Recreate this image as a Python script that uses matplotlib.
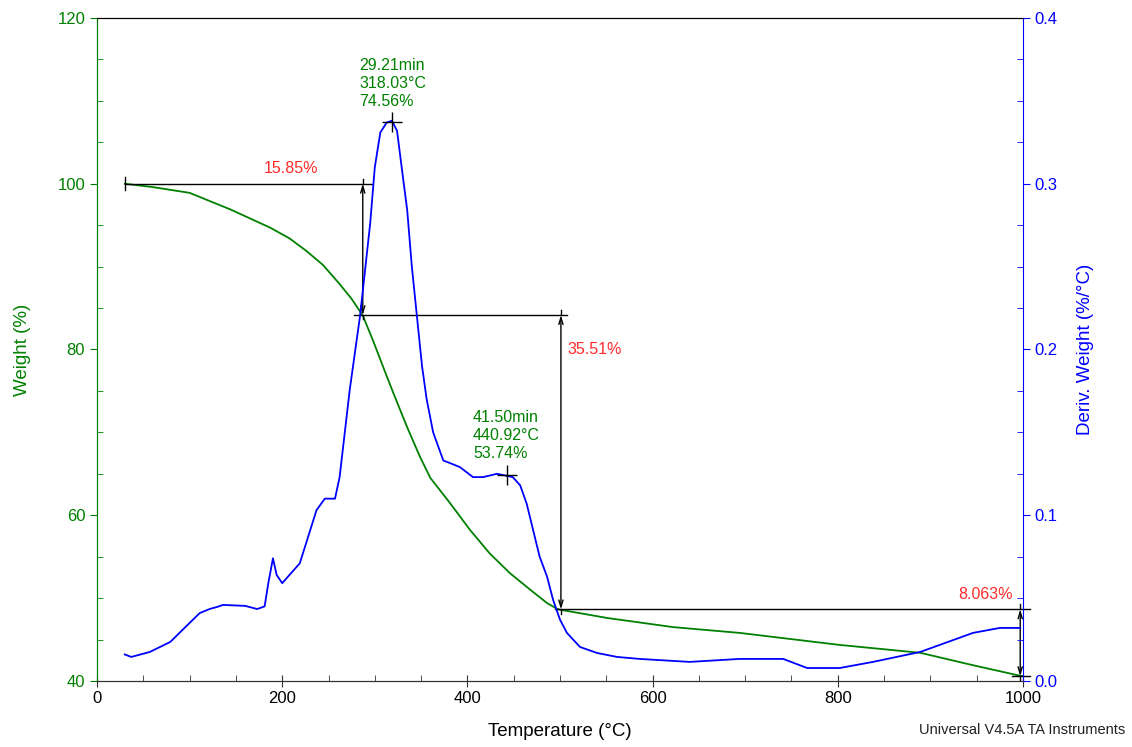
import matplotlib
matplotlib.use('Agg')
import matplotlib.pyplot as plt
from matplotlib.ticker import MultipleLocator

plt.rcParams['font.family'] = ['Liberation Sans', 'DejaVu Sans']

GREEN = '#008000'
BLUE = '#0000FF'
RED = '#FF2A2A'

# TGA weight curve
temp_w = [30, 60, 100, 144, 187, 208, 226, 244, 262, 275, 287, 298, 309,
          320, 335, 349, 360, 381, 403, 424, 446, 468, 486, 497, 500, 551,
          622, 694, 802, 889, 946, 994, 1000]
weight = [100.0, 99.6, 98.9, 96.9, 94.7, 93.4, 91.9, 90.2, 87.9, 86.1,
          84.1, 81.1, 77.9, 74.75, 70.6, 67.0, 64.5, 61.5, 58.2, 55.4,
          53.0, 51.0, 49.4, 48.7, 48.6, 47.6, 46.5, 45.8, 44.35, 43.4,
          41.9, 40.7, 40.58]

# derivative weight curve
temp_d = [30, 37, 57, 79, 100, 111, 122, 130, 136, 160, 173, 181, 185, 190,
          194, 200, 219, 237, 246, 257, 262, 273, 284, 295, 300, 306, 313,
          318.5, 324, 329, 335, 340, 345.5, 351, 356, 363, 374, 381, 392,
          406, 417, 432, 449, 457, 464, 471, 478, 486, 492.5, 500, 507.5,
          521.6, 540, 561.6, 586, 640, 694, 741, 767, 802, 838, 889, 946,
          975, 997]
deriv = [0.016, 0.0145, 0.0175, 0.0235, 0.035, 0.041, 0.0435, 0.0447,
         0.0459, 0.0453, 0.0434, 0.045, 0.059, 0.074, 0.064, 0.059, 0.071,
         0.103, 0.110, 0.110, 0.123, 0.176, 0.220, 0.276, 0.310, 0.331,
         0.337, 0.338, 0.332, 0.310, 0.284, 0.250, 0.220, 0.190, 0.170,
         0.150, 0.133, 0.1315, 0.129, 0.123, 0.123, 0.125, 0.123, 0.118,
         0.107, 0.091, 0.075, 0.063, 0.049, 0.037, 0.029, 0.0205, 0.0169,
         0.0145, 0.0133, 0.0115, 0.0133, 0.0133, 0.0078, 0.0078, 0.0115,
         0.0175, 0.029, 0.032, 0.032]

# step analysis: temperatures and weight levels
step_temps = [287, 501, 997]
step_levels = [100.0, 84.15, 48.64, 40.58]
step_labels = ['15.85%', '35.51%', '8.063%']

# peak annotations on derivative curve
peak_temps = [318.03, 442.5]
peak_derivs = [0.337, 0.124]
peak_texts = ['29.21min\n318.03°C\n74.56%', '41.50min\n440.92°C\n53.74%']

fig = plt.figure(figsize=(11.32, 7.47), dpi=100)
ax = fig.add_axes([0.0857, 0.0884, 0.8180, 0.8875])
ax2 = ax.twinx()

ax.plot(temp_w, weight, color=GREEN, lw=1.3)
ax2.plot(temp_d, deriv, color=BLUE, lw=1.3)

ax.set_xlim(0, 1000)
ax.set_ylim(40, 120)
ax2.set_ylim(0, 0.4)

# step lines
lc = 'black'
ax.plot([30, 297], [step_levels[0]] * 2, color=lc, lw=1)
ax.plot([30, 30], [step_levels[0] - 0.8, step_levels[0] + 0.8], color=lc, lw=1)
ax.plot([278, 508], [step_levels[1]] * 2, color=lc, lw=1)
ax.plot([495, 1008], [step_levels[2]] * 2, color=lc, lw=1, clip_on=False)
ax.plot([988, 1008], [step_levels[3]] * 2, color=lc, lw=1, clip_on=False)
for i, t in enumerate(step_temps):
    ax.annotate('', xy=(t, step_levels[i + 1]), xytext=(t, step_levels[i]),
                arrowprops=dict(arrowstyle='<->,head_length=0.5,head_width=0.15',
                                color=lc, lw=1, shrinkA=0, shrinkB=0),
                annotation_clip=False)
for i, t in enumerate(step_temps):
    ax.plot([t, t], [step_levels[i], step_levels[i] + 0.6], color=lc, lw=1,
            clip_on=False)
    ax.plot([t, t], [step_levels[i + 1], step_levels[i + 1] - 0.5], color=lc,
            lw=1, clip_on=False)

ax.text(209, 101.3, step_labels[0], color=RED, fontsize=11.5, ha='center')
ax.text(508, 79.4, step_labels[1], color=RED, fontsize=11.5, ha='left')
ax.text(960, 49.9, step_labels[2], color=RED, fontsize=11.5, ha='center')

# derivative peaks
for t, d in zip(peak_temps, peak_derivs):
    ax2.plot([t], [d], marker='+', color='black', ms=14, mew=1)
ax2.text(283, 0.345, peak_texts[0], color=GREEN, fontsize=11.5, ha='left',
         va='bottom', linespacing=1.25)
ax2.text(406, 0.133, peak_texts[1], color=GREEN, fontsize=11.5, ha='left',
         va='bottom', linespacing=1.25)

# axes styling
ax.set_xlabel('Temperature (°C)', fontsize=13.5, labelpad=12)
ax.set_ylabel('Weight (%)', color=GREEN, fontsize=13.5, labelpad=19)
ax2.set_ylabel('Deriv. Weight (%/°C)', color=BLUE, fontsize=13.5, labelpad=14)

ax.xaxis.set_major_locator(MultipleLocator(200))
ax.xaxis.set_minor_locator(MultipleLocator(50))
ax.yaxis.set_major_locator(MultipleLocator(20))
ax.yaxis.set_minor_locator(MultipleLocator(5))
ax2.yaxis.set_major_locator(MultipleLocator(0.1))
ax2.yaxis.set_minor_locator(MultipleLocator(0.025))
ax2.yaxis.set_major_formatter(plt.FormatStrFormatter('%.1f'))

ax.tick_params(axis='x', which='major', direction='inout', length=8, labelsize=12,
               colors='#333333', labelcolor='black')
ax.tick_params(axis='x', which='minor', direction='in', length=4, colors='#333333')
ax.tick_params(axis='y', which='major', direction='out', length=5, labelsize=12,
               colors=GREEN)
ax.tick_params(axis='y', which='minor', direction='in', length=4, colors=GREEN)
ax2.tick_params(axis='y', which='major', direction='out', length=5, labelsize=12,
                colors=BLUE)
ax2.tick_params(axis='y', which='minor', direction='in', length=4, colors=BLUE)

ax.spines['left'].set_color(GREEN)
ax2.spines['left'].set_color(GREEN)
ax2.spines['right'].set_color(BLUE)
ax.spines['right'].set_visible(False)
ax2.spines['top'].set_color('black')
ax2.spines['bottom'].set_color('#333333')
ax.spines['bottom'].set_color('#333333')

fig.text(0.994, 0.014, 'Universal V4.5A TA Instruments', fontsize=10.5,
         ha='right', va='bottom', color='#222222')

fig.savefig('out.png', dpi=100)
